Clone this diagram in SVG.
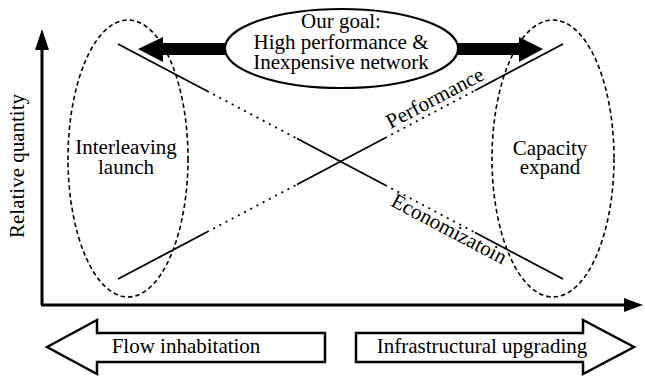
<svg xmlns="http://www.w3.org/2000/svg" width="645" height="378" viewBox="0 0 645 378">
<style>
text{font-family:"Liberation Serif",Tinos,"Times New Roman","DejaVu Serif",serif;font-size:21px;fill:#000}
.solid{stroke:#000;stroke-width:1.8;fill:none}
.dot{stroke:#000;stroke-width:1.8;fill:none;stroke-dasharray:2 5}
.dash{stroke:#000;stroke-width:1.6;fill:none;stroke-dasharray:4.5 3}
.axis{stroke:#000;stroke-width:3;fill:none}
.big{fill:#fff;stroke:#000;stroke-width:2.5}
</style>
<rect width="645" height="378" fill="#fff"/>
<g id="axes">
<line class="axis" x1="42" y1="46" x2="42" y2="305"/>
<line class="axis" x1="41" y1="305" x2="626" y2="305"/>
<polygon points="42,29 35,50 49,50" fill="#000"/>
<polygon points="643,305 624,298 624,312" fill="#000"/>
<text transform="translate(24,166) rotate(-90)" text-anchor="middle">Relative quantity</text>
</g>
<g id="connectors">
<g id="economization-line">
<line class="solid" x1="118" y1="44" x2="207" y2="91"/>
<line class="dot" x1="207" y1="91" x2="297" y2="138.5"/>
<line class="solid" x1="297" y1="138.5" x2="385" y2="185"/>
<line class="dot" x1="385" y1="185" x2="475" y2="232.5"/>
<line class="solid" x1="475" y1="232.5" x2="563" y2="279"/>
</g>
<g id="performance-line">
<line class="solid" x1="118" y1="279" x2="207" y2="232"/>
<line class="dot" x1="207" y1="232" x2="297" y2="184.5"/>
<line class="solid" x1="297" y1="184.5" x2="385" y2="138"/>
<line class="dot" x1="385" y1="138" x2="475" y2="90.5"/>
<line class="solid" x1="475" y1="90.5" x2="563" y2="44"/>
</g>
<g id="goal-arrows">
<rect x="161" y="43" width="66" height="12" fill="#000"/>
<polygon points="138,49 163,37 163,62" fill="#000"/>
<rect x="455" y="43" width="66" height="12" fill="#000"/>
<polygon points="543,49 519,37 519,62" fill="#000"/>
</g>
</g>
<text transform="translate(438,104) rotate(-27.8)" text-anchor="middle">Performance</text>
<text transform="translate(446,235) rotate(27.8)" text-anchor="middle">Economizatoin</text>
<g id="interleaving">
<ellipse class="dash" cx="128" cy="158.5" rx="60" ry="138.5"/>
<text x="126" y="154" text-anchor="middle">Interleaving</text>
<text x="126" y="174" text-anchor="middle">launch</text>
</g>
<g id="capacity">
<ellipse class="dash" cx="553" cy="158.5" rx="61" ry="138.5"/>
<text x="550" y="155" text-anchor="middle">Capacity</text>
<text x="550" y="174" text-anchor="middle">expand</text>
</g>
<g id="goal">
<ellipse cx="341.5" cy="48.5" rx="116.5" ry="39.5" fill="#fff" stroke="#000" stroke-width="2"/>
<text x="341" y="28" text-anchor="middle">Our goal:</text>
<text x="341" y="49" text-anchor="middle">High performance &amp;</text>
<text x="341" y="69" text-anchor="middle">Inexpensive network</text>
</g>
<g id="flow-inhabitation">
<polygon class="big" points="47,347 97,320 97,333 325,333 325,362 97,362 97,374"/>
<text x="186" y="353" text-anchor="middle">Flow inhabitation</text>
</g>
<g id="infrastructural-upgrading">
<polygon class="big" points="356,333 583,333 583,320 634,347 583,374 583,362 356,362"/>
<text x="482" y="353" text-anchor="middle">Infrastructural upgrading</text>
</g>
</svg>
